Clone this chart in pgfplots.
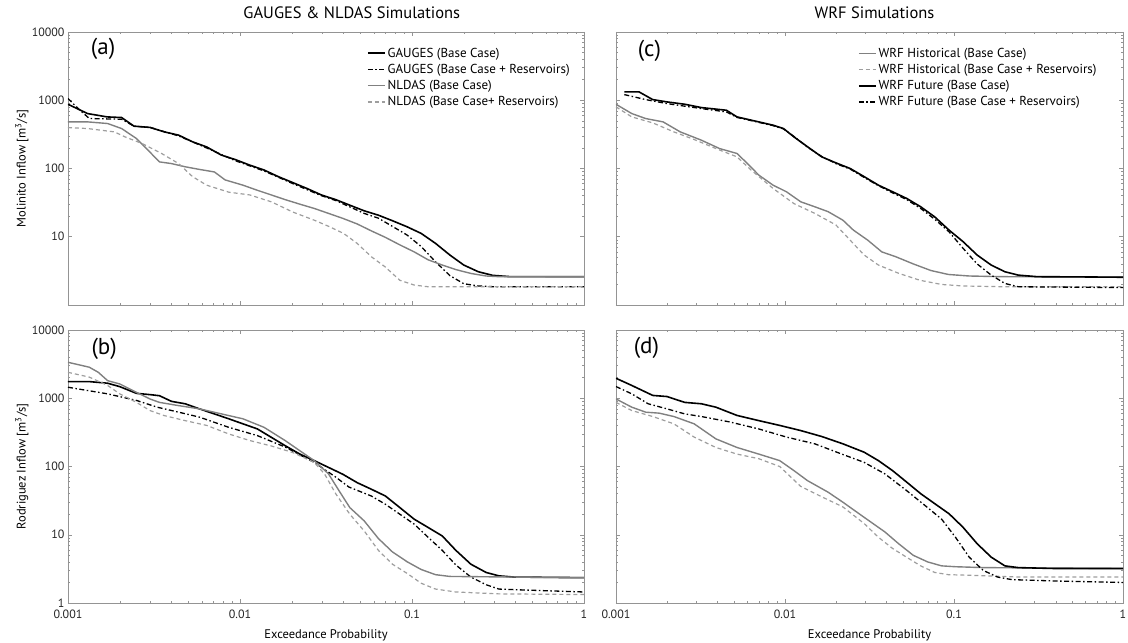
\documentclass[border=0pt]{standalone}
\usepackage{fontspec}
\setmainfont{PT Sans}
\usepackage{pgfplots}
\pgfplotsset{compat=1.18}
\definecolor{axgray}{gray}{0.58}
\definecolor{lgray}{gray}{0.5}
\definecolor{llgray}{gray}{0.62}
\tikzset{
 gbase/.style={black, line width=1.6pt},
 gres/.style={black, line width=1.3pt, dash pattern=on 5pt off 2.5pt on 1.5pt off 2.5pt},
 nbase/.style={lgray, line width=1.4pt},
 nres/.style={llgray, line width=1.2pt, dash pattern=on 4pt off 3pt},
}
\begin{document}
\begin{tikzpicture}
\path[use as bounding box] (0,0) rectangle (1128pt,643pt);
% (a)
\begin{axis}[xmode=log, ymode=log, xmin=0.001, xmax=1, ymin=1, ymax=10000,
  scale only axis, height=273pt, width=516pt, anchor=south west, at={(68pt,338pt)},
  log ticks with fixed point, /pgf/number format/1000 sep={}, /pgf/number format/assume math mode=true,
  tick align=inside, major tick length=4pt, minor tick length=2pt,
  axis line style={axgray, line width=0.9pt}, tick style={axgray, line width=0.5pt},
  tick label style={font=\fontsize{12}{13}\selectfont, text=black!85},
  xtick={0.001,0.01,0.1,1}, xticklabels={}, ytick={10,100,1000,10000},
  title={GAUGES \& NLDAS Simulations},
  title style={font=\fontsize{16.5}{18}\selectfont, at={(axis description cs:0.55,1.029)}, anchor=base},
  ylabel={Molinito Inflow [m\textsuperscript{3}/s]},
  ylabel style={font=\fontsize{12.5}{14}\selectfont, at={(axis description cs:-0.0895,0.5)}, anchor=center},
  legend cell align=left,
  legend style={draw=none, fill=none, font=\fontsize{13}{14}\selectfont, inner sep=0pt, row sep=1.5pt, at={(0.579,0.95)}, anchor=north west}]
\addplot[gbase] coordinates {(0.001,873)(0.0013,638)(0.00169,570)(0.00205,558)(0.00242,417)(0.0030,400)(0.00363,344)(0.0044,308)(0.0053,246)(0.0064,207)(0.0078,157)(0.0094,135)(0.0114,112)(0.0138,95)(0.0167,76)(0.0203,62)(0.0245,51)(0.0297,41)(0.036,35)(0.0435,29)(0.0527,24)(0.0638,20.7)(0.0773,17.1)(0.0936,14)(0.113,11.2)(0.137,8.0)(0.166,5.4)(0.2,3.85)(0.243,3.07)(0.294,2.72)(0.374,2.6)(1,2.6)};
\addlegendentry{GAUGES (Base Case)}
\addplot[gres] coordinates {(0.001,1060)(0.00115,750)(0.00133,540)(0.00205,527)(0.00242,417)(0.003,400)(0.0044,300)(0.0064,200)(0.0094,130)(0.0138,92)(0.0203,60)(0.0297,40)(0.036,34)(0.0527,22)(0.0638,18.7)(0.0773,14.1)(0.0936,10.6)(0.113,7.2)(0.137,4.3)(0.166,2.7)(0.2,2.05)(0.243,1.9)(0.3,1.85)(1,1.85)};
\addlegendentry{GAUGES (Base Case + Reservoirs)}
\addplot[nbase] coordinates {(0.001,482)(0.0013,482)(0.0017,456)(0.00205,385)(0.0025,275)(0.00286,196)(0.0034,125)(0.004,118)(0.0048,106)(0.0058,97)(0.0071,89)(0.0082,68)(0.0104,57)(0.0126,48)(0.0152,41)(0.0183,35)(0.0223,30)(0.027,26)(0.0327,22)(0.0396,18.6)(0.048,15.4)(0.058,12.2)(0.07,9.8)(0.085,7.6)(0.103,6.0)(0.124,4.6)(0.15,3.85)(0.18,3.3)(0.22,2.9)(0.27,2.66)(0.32,2.6)(1,2.58)};
\addlegendentry{NLDAS (Base Case)}
\addplot[nres] coordinates {(0.001,398)(0.0013,385)(0.00186,344)(0.00215,290)(0.0027,232)(0.0035,166)(0.0044,118)(0.0053,76)(0.0064,57)(0.0086,45)(0.0114,41)(0.0152,32.5)(0.0203,23)(0.027,17.5)(0.033,14.1)(0.04,11.2)(0.048,8.0)(0.058,5.1)(0.07,3.6)(0.085,2.3)(0.103,1.96)(0.124,1.85)(1,1.85)};
\addlegendentry{NLDAS (Base Case+ Reservoirs)}
\node[font=\fontsize{23}{25}\selectfont] at (rel axis cs:0.068,0.938) {(a)};
\end{axis}
% (b)
\begin{axis}[xmode=log, ymode=log, xmin=0.001, xmax=1, ymin=1, ymax=10000,
  scale only axis, height=273pt, width=516pt, anchor=south west, at={(68pt,40pt)},
  log ticks with fixed point, /pgf/number format/1000 sep={}, /pgf/number format/assume math mode=true,
  tick align=inside, major tick length=4pt, minor tick length=2pt,
  axis line style={axgray, line width=0.9pt}, tick style={axgray, line width=0.5pt},
  tick label style={font=\fontsize{12}{13}\selectfont, text=black!85},
  xticklabel style={yshift=-3pt},
  xtick={0.001,0.01,0.1,1}, ytick={1,10,100,1000,10000},
  xlabel={Exceedance Probability},
  xlabel style={font=\fontsize{12.5}{14}\selectfont, at={(axis description cs:0.5,-0.117)}, anchor=center},
  ylabel={Rodriguez Inflow [m\textsuperscript{3}/s]},
  ylabel style={font=\fontsize{12.5}{14}\selectfont, at={(axis description cs:-0.0895,0.5)}, anchor=center}]
\addplot[gbase] coordinates {(0.001,1754)(0.00133,1754)(0.0017,1660)(0.002,1480)(0.0025,1180)(0.003,1130)(0.0034,1090)(0.004,900)(0.0048,830)(0.0058,700)(0.0071,590)(0.0086,500)(0.0104,422)(0.0126,356)(0.0152,268)(0.0183,202)(0.0223,152)(0.027,122)(0.0327,97)(0.0396,77)(0.048,58)(0.058,46.5)(0.07,37)(0.085,25)(0.103,16.9)(0.124,12.8)(0.15,9.6)(0.18,5.9)(0.22,3.7)(0.27,2.8)(0.32,2.5)(0.39,2.4)(1,2.35)};
\addplot[gres] coordinates {(0.001,1450)(0.0017,1160)(0.0025,930)(0.0033,740)(0.0044,625)(0.0058,530)(0.0086,375)(0.0126,284)(0.0183,193)(0.027,115)(0.036,70)(0.043,50)(0.058,37)(0.07,28)(0.085,20)(0.103,14.3)(0.124,9.2)(0.15,5.9)(0.18,3.6)(0.22,2.4)(0.27,1.85)(0.32,1.6)(0.45,1.55)(1,1.45)};
\addplot[nbase] coordinates {(0.001,3365)(0.00133,2850)(0.0015,2400)(0.0017,1810)(0.002,1620)(0.0025,1220)(0.003,975)(0.0034,870)(0.0044,780)(0.0058,700)(0.0078,590)(0.0104,500)(0.0138,375)(0.0183,240)(0.0223,170)(0.027,122)(0.0327,78)(0.0377,44)(0.0435,25)(0.0527,16)(0.0638,8.8)(0.077,5.6)(0.094,4.0)(0.113,3.1)(0.137,2.6)(0.166,2.45)(1,2.35)};
\addplot[nres] coordinates {(0.001,2400)(0.00133,2040)(0.0017,1540)(0.002,1160)(0.0025,870)(0.003,660)(0.0036,560)(0.0048,470)(0.0064,400)(0.0086,300)(0.0114,240)(0.0152,200)(0.0203,160)(0.027,115)(0.031,78)(0.036,40)(0.0435,20)(0.0527,11.4)(0.0638,5.9)(0.077,3.7)(0.094,2.7)(0.113,1.95)(0.137,1.6)(0.18,1.45)(0.32,1.36)(1,1.33)};
\node[font=\fontsize{23}{25}\selectfont] at (rel axis cs:0.07,0.93) {(b)};
\end{axis}
% (c)
\begin{axis}[xmode=log, ymode=log, xmin=0.001, xmax=1, ymin=1, ymax=10000,
  scale only axis, height=273pt, width=507pt, anchor=south west, at={(616pt,338pt)},
  log ticks with fixed point, /pgf/number format/1000 sep={}, /pgf/number format/assume math mode=true,
  tick align=inside, major tick length=4pt, minor tick length=2pt,
  axis line style={axgray, line width=0.9pt}, tick style={axgray, line width=0.5pt},
  tick label style={font=\fontsize{12}{13}\selectfont, text=black!85},
  xtick={0.001,0.01,0.1,1}, ytick={1,10,100,1000,10000}, xticklabels={}, yticklabels={},
  title={WRF Simulations},
  title style={font=\fontsize{16.5}{18}\selectfont, at={(axis description cs:0.51,1.029)}, anchor=base},
  legend cell align=left,
  legend style={draw=none, fill=none, font=\fontsize{13}{14}\selectfont, inner sep=0pt, row sep=1.5pt, at={(0.477,0.95)}, anchor=north west}]
\addplot[nbase] coordinates {(0.001,873)(0.00124,638)(0.0015,539)(0.0019,482)(0.0024,344)(0.0032,260)(0.0041,196)(0.0052,166)(0.006,118)(0.007,80)(0.0085,57)(0.0102,45.6)(0.0124,32.5)(0.015,27.5)(0.018,23.3)(0.022,17.5)(0.0254,12.5)(0.0309,8.9)(0.0374,6.0)(0.0452,5.1)(0.0574,4.0)(0.073,3.2)(0.0927,2.8)(0.123,2.66)(0.19,2.6)(1,2.56)};
\addlegendentry{WRF Historical (Base Case)}
\addplot[nres] coordinates {(0.001,800)(0.00124,570)(0.00165,466)(0.0022,344)(0.0029,266)(0.0039,196)(0.0052,148)(0.0063,95)(0.0085,51)(0.0113,30.6)(0.015,22)(0.02,14.9)(0.0243,8.9)(0.0294,5.4)(0.0357,3.85)(0.0473,2.9)(0.063,2.3)(0.0843,2.0)(0.113,1.9)(0.2,1.85)(1,1.85)};
\addlegendentry{WRF Historical (Base Case + Reservoirs)}
\addplot[gbase] coordinates {(0.00112,1324)(0.00137,1324)(0.00165,1022)(0.002,946)(0.00255,874)(0.0032,781)(0.0045,714)(0.0052,570)(0.0066,498)(0.0085,431)(0.0098,385)(0.0113,290)(0.0136,208)(0.0165,148)(0.02,121)(0.0243,100)(0.0294,76)(0.0357,57)(0.0433,45.6)(0.0525,36.4)(0.0635,27.5)(0.077,19.5)(0.0935,12.5)(0.113,8.5)(0.137,5.4)(0.166,3.85)(0.2,3.07)(0.24,2.74)(0.31,2.6)(0.55,2.58)(1,2.55)};
\addlegendentry{WRF Future (Base Case)}
\addplot[gres] coordinates {(0.00112,1210)(0.0015,1022)(0.002,894)(0.0032,755)(0.0045,675)(0.0052,560)(0.0066,490)(0.0085,425)(0.0098,380)(0.0113,295)(0.0136,205)(0.0165,150)(0.02,118)(0.0243,98)(0.0294,74)(0.0357,56)(0.0433,44)(0.0525,35)(0.0635,26)(0.077,18)(0.0935,11.8)(0.113,6.8)(0.137,4.0)(0.166,2.74)(0.2,2.07)(0.24,1.85)(1,1.8)};
\addlegendentry{WRF Future (Base Case + Reservoirs)}
\node[font=\fontsize{23}{25}\selectfont] at (rel axis cs:0.066,0.93) {(c)};
\end{axis}
% (d)
\begin{axis}[xmode=log, ymode=log, xmin=0.001, xmax=1, ymin=1, ymax=10000,
  scale only axis, height=273pt, width=507pt, anchor=south west, at={(616pt,40pt)},
  log ticks with fixed point, /pgf/number format/1000 sep={}, /pgf/number format/assume math mode=true,
  tick align=inside, major tick length=4pt, minor tick length=2pt,
  axis line style={axgray, line width=0.9pt}, tick style={axgray, line width=0.5pt},
  tick label style={font=\fontsize{12}{13}\selectfont, text=black!85},
  xticklabel style={yshift=-3pt},
  xtick={0.001,0.01,0.1,1}, ytick={1,10,100,1000,10000}, yticklabels={},
  xlabel={Exceedance Probability},
  xlabel style={font=\fontsize{12.5}{14}\selectfont, at={(axis description cs:0.5,-0.117)}, anchor=center}]
\addplot[nbase] coordinates {(0.001,977)(0.00124,740)(0.0015,625)(0.0018,605)(0.0022,540)(0.0029,422)(0.0039,254)(0.0052,190)(0.007,152)(0.0093,122)(0.0113,87)(0.0136,62)(0.018,42)(0.022,30)(0.0294,18)(0.039,11)(0.047,7.4)(0.0574,5.0)(0.0698,4.0)(0.0845,3.5)(0.102,3.4)(0.149,3.3)(1,3.2)};
\addplot[nres] coordinates {(0.001,870)(0.00124,660)(0.00165,540)(0.0022,422)(0.0029,270)(0.0039,190)(0.0052,152)(0.007,130)(0.0093,100)(0.0124,51)(0.0165,36)(0.022,25.6)(0.0294,14.6)(0.0357,9.2)(0.0433,6.3)(0.0523,4.7)(0.0635,3.5)(0.077,2.8)(0.0927,2.6)(0.123,2.55)(0.24,2.4)(1,2.4)};
\addplot[gbase] coordinates {(0.001,1963)(0.00124,1540)(0.00165,1100)(0.002,1060)(0.00255,870)(0.0032,830)(0.0039,740)(0.0052,560)(0.007,470)(0.0093,400)(0.0124,336)(0.0165,275)(0.022,215)(0.0294,162)(0.0357,122)(0.0433,87)(0.0525,59)(0.0635,40)(0.077,28.5)(0.0935,20.3)(0.113,12.9)(0.137,7.4)(0.166,4.7)(0.2,3.5)(0.24,3.3)(0.4,3.2)(1,3.2)};
\addplot[gres] coordinates {(0.001,1485)(0.00124,1160)(0.00155,830)(0.002,700)(0.00255,590)(0.0032,540)(0.0047,450)(0.007,355)(0.0102,270)(0.015,215)(0.022,150)(0.0294,115)(0.039,78)(0.0523,44.6)(0.0698,25)(0.0845,16.9)(0.102,9.2)(0.123,4.7)(0.149,3.0)(0.181,2.4)(0.22,2.2)(0.4,2.1)(1,2.0)};
\node[font=\fontsize{23}{25}\selectfont] at (rel axis cs:0.06,0.935) {(d)};
\end{axis}
\end{tikzpicture}
\end{document}
